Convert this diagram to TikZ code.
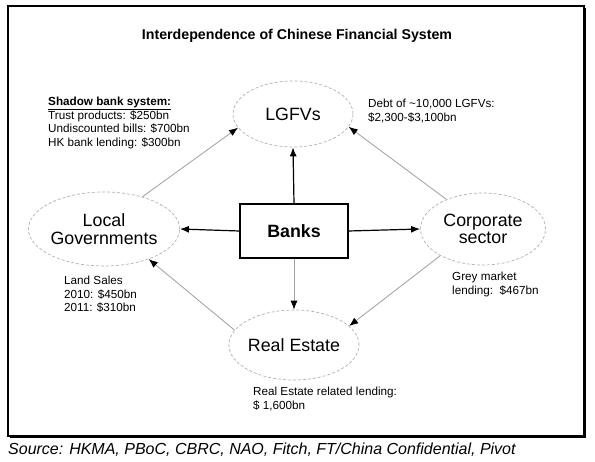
\documentclass[tikz,border=0pt]{standalone}
\usepackage{fontspec}
\setmainfont{Liberation Sans}
\usetikzlibrary{shapes.geometric,arrows.meta}
\begin{document}
\begin{tikzpicture}[x=1pt,y=-1pt,
  oval/.style={ellipse,draw=gray!60,densely dashed,line width=0.7pt,inner sep=0pt,align=center,font=\fontsize{17.8}{19.5}\selectfont},
  bankbox/.style={draw,line width=1.2pt,minimum width=108pt,minimum height=54pt,font=\fontsize{17.8}{19}\selectfont\bfseries},
  strong/.style={draw,line width=1.2pt,-{Latex[length=9pt,width=7pt]}},
  weak/.style={draw=gray!75,line width=0.8pt,-{Latex[length=9pt,width=7pt,fill=black,color=black]}},
  note/.style={anchor=north west,align=left,inner sep=0pt,font=\fontsize{11.7}{13.5}\selectfont}
]
\useasboundingbox (0,0) rectangle (595,462);
\fill[white] (0,0) rectangle (595,462);
% frame
\draw[line width=1.3pt] (8,6) rectangle (584,436);
\draw[line width=1.2pt] (585.5,8) -- (585.5,437.5) -- (10,437.5);

\node[font=\fontsize{14.2}{16}\selectfont\bfseries] (title) at (297,36) {Interdependence of Chinese Financial System};

\node[oval, minimum height=66pt,minimum width=120pt] (lgfv) at (293,114) {LGFVs};
\node[oval, minimum height=74pt,minimum width=124pt] (lg) at (104,229) {Local\\[-2pt]Governments};
\node[oval, minimum height=72pt,minimum width=125pt] (corp) at (483,229) {Corporate\\[-2pt]sector};
\node[oval, minimum height=70pt,minimum width=126pt] (re) at (294,345) {Real Estate};
\node[bankbox] (banks) at (294,231) {Banks};

\draw[strong] (banks.north) -- (lgfv.south);
\draw[strong] (banks.west) -- (lg.east);
\draw[strong] (banks.east) -- (corp.west);
\draw[weak] (banks.south) -- (re.north);
\draw[weak] (lg.40) -- (lgfv.194);
\draw[weak] (corp.141) -- (lgfv.-13);
\draw[weak] (re.166) -- (lg.-34);
\draw[weak] (corp.212) -- (re.19);

\node[note] (shadow) at (48,97) {\textbf{\underline{Shadow bank system:}}\\Trust products: \$250bn\\Undiscounted bills: \$700bn\\HK bank lending: \$300bn};
\node[note] (debt) at (368,99) {Debt of \textasciitilde10,000 LGFVs:\\\$2,300-\$3,100bn};
\node[note] (land) at (64,276) {Land Sales\\2010: \$450bn\\2011: \$310bn};
\node[note] (grey) at (452,272) {Grey market\\lending:\ \ \$467bn};
\node[note] (rel) at (253,387) {Real Estate related lending:\\\$ 1,600bn};
\node[anchor=west,inner sep=0pt,font=\fontsize{16}{18}\selectfont\itshape] (src) at (8,450) {Source: HKMA, PBoC, CBRC, NAO, Fitch, FT/China Confidential, Pivot};
\end{tikzpicture}
\end{document}
